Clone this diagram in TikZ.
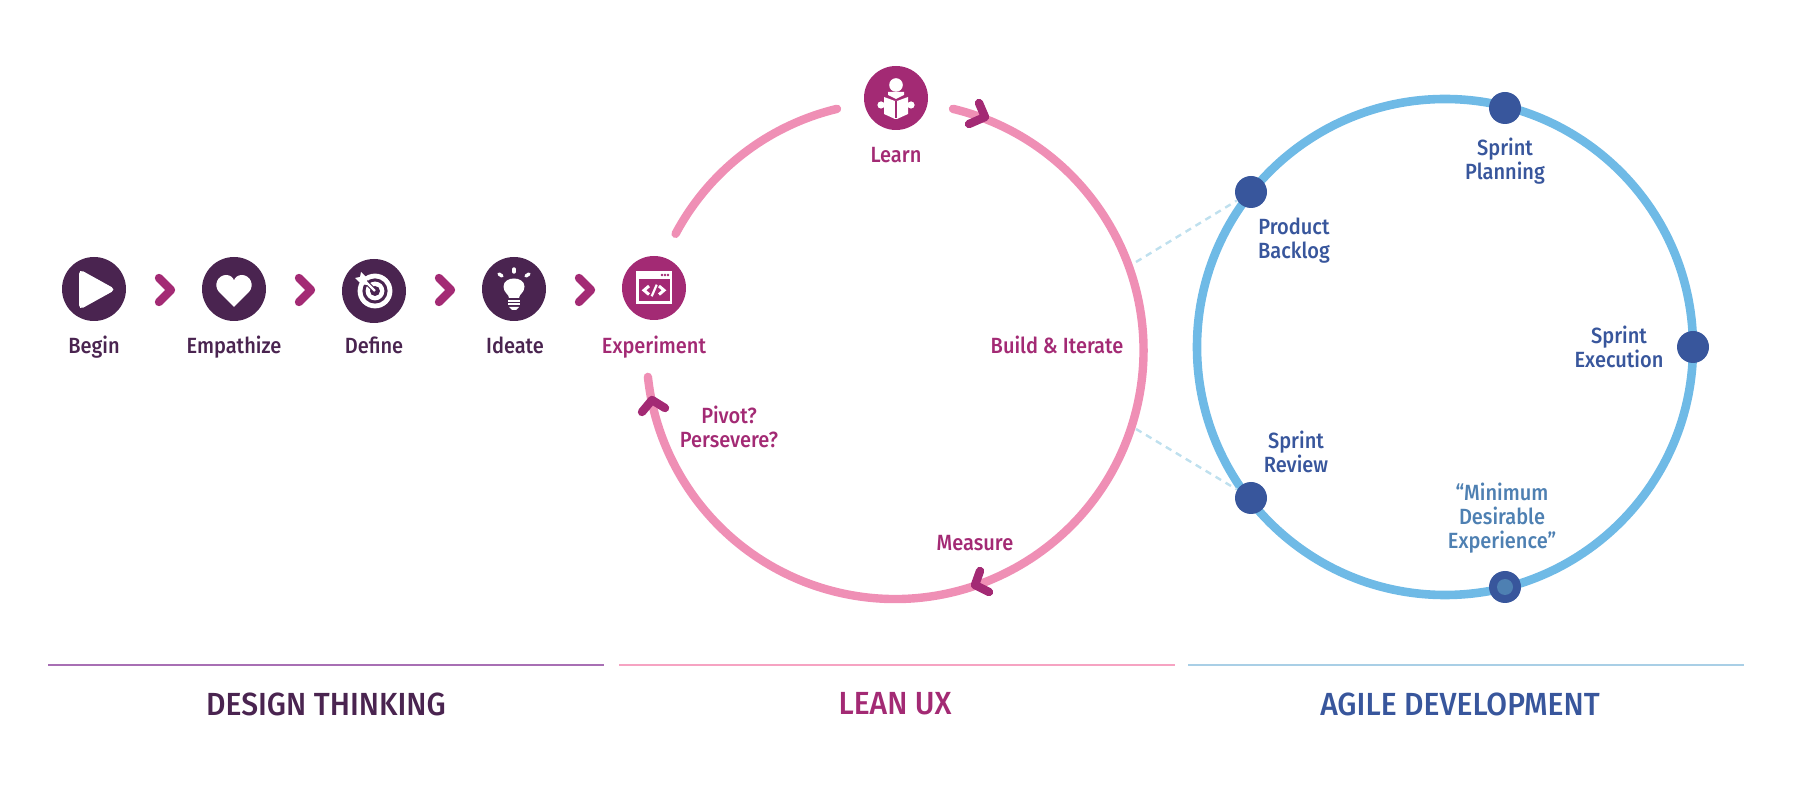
\documentclass[tikz,border=0pt]{standalone}
\usepackage{fontspec}
\setmainfont[FakeStretch=0.91]{Fira Sans Medium}
\newfontface\headfont[FakeStretch=0.94]{Fira Sans Medium}
\usetikzlibrary{positioning}
\definecolor{plumdark}{HTML}{4A2450}
\definecolor{magentadark}{HTML}{A32A74}
\definecolor{pinkring}{HTML}{EF8FB5}
\definecolor{bluering}{HTML}{6FBAE6}
\definecolor{bluedark}{HTML}{38569C}
\definecolor{bluemid}{HTML}{4E80B2}
\definecolor{bluedash}{HTML}{BFE0EE}
\definecolor{plumline}{HTML}{A86FB4}
\definecolor{pinkline}{HTML}{F6A3C2}
\definecolor{blueline}{HTML}{A9CFE6}
\tikzset{
	iconplum/.style={circle, fill=plumdark, minimum size=32pt, inner sep=0pt},
	iconmag/.style={circle, fill=magentadark, minimum size=32pt, inner sep=0pt},
	stepchevron/.style={draw=magentadark, line width=4.2pt, line cap=round, line join=round},
	ringarc/.style={draw=pinkring, line width=4.2pt, line cap=round},
	sprintdot/.style={circle, fill=bluedark, minimum size=16pt, inner sep=0pt},
	linkdash/.style={draw=bluedash, line width=1.2pt, dash pattern=on 3.2pt off 2.6pt},
	stacklabel/.style={font=\fontsize{11pt}{12pt}\selectfont, align=center, inner sep=0pt},
	steplabel/.style={stacklabel, text height=8pt, text depth=2.5pt},
	headline/.style={font=\fontsize{16pt}{18pt}\headfont, inner sep=0pt},
	raystroke/.style={draw=white, line width=1.7pt, line cap=round}
}
\begin{document}
\begin{tikzpicture}[x=0.5pt,y=-0.5pt]
	\useasboundingbox (0,0) rectangle (1800,801);
	% Agile ring
	\coordinate (agilec) at (1445,347);
	\draw[draw=bluering, line width=4.3pt] (agilec) circle (124pt);
	% Lean ring
	\coordinate (leanc) at (895,350.5);
	\draw[ringarc] ([shift={(152:124.25pt)}]leanc) arc[start angle=152, end angle=103.5, radius=124.25pt];
	\draw[ringarc] ([shift={(76.5:124.25pt)}]leanc) arc[start angle=76.5, end angle=-173.9, radius=124.25pt];
	% Design thinking icons
	\node[iconplum] (begin) at (94,289) {};
	\node[iconplum] (empathize) at (234,289) {};
	\node[iconplum] (define) at (374,291) {};
	\node[iconplum] (ideate) at (514,289) {};
	\node[iconmag] (experiment) at (654,288) {};
	\node[iconmag] (learn) at (896,98) {};
	% Play
	\begin{scope}[shift={(begin)}]
		\fill[white, rounded corners=2.5pt] (-15,-20) -- (22,0.5) -- (-15,21) -- cycle;
	\end{scope}
	% Heart
	\begin{scope}[shift={(empathize)}]
		\fill[white] (0,18) -- (-15,3) .. controls (-21,-4) and (-16,-14) .. (-8,-14) .. controls (-4,-14) and (-1,-12) .. (0,-8.5) .. controls (1,-12) and (4,-14) .. (8,-14) .. controls (16,-14) and (21,-4) .. (15,3) -- cycle;
	\end{scope}
	% Target
	\begin{scope}[shift={(define)}]
		\fill[white] (1,0) circle (8.7pt);
		\fill[plumdark] (1,0) circle (6.3pt);
		\fill[white] (1,0) circle (4.7pt);
		\fill[plumdark] (1,0) circle (2.5pt);
		\draw[plumdark, line width=2.2pt] (1,0) -- (-12,-13);
		\draw[white, line width=1.1pt] (1,0) -- (-9,-10);
		\fill[white] (-7,-6) -- (-13,-7) -- (-19,-13) -- (-14,-14) -- (-13,-19) -- (-7,-13) -- cycle;
	\end{scope}
	% Bulb
	\begin{scope}[shift={(ideate)}]
		\fill[white] (-5,9) .. controls (-5,5) and (-10.5,4) .. (-10.5,-2.5) .. controls (-10.5,-8) and (-5,-10.5) .. (0,-10.5) .. controls (5,-10.5) and (10.5,-8) .. (10.5,-2.5) .. controls (10.5,4) and (5,5) .. (5,9) -- cycle;
		\fill[white] (-6,11) rectangle (6,13);
		\fill[white] (-6,14.5) rectangle (6,16.5);
		\fill[white] (-5,18) -- (5,18) -- (2,21) -- (-2,21) -- cycle;
		\draw[raystroke] (0,-20) -- (0,-17);
		\draw[raystroke] (-15,-15) -- (-12,-13);
		\draw[raystroke] (15,-15) -- (12,-13);
	\end{scope}
	% Code window
	\begin{scope}[shift={(experiment)}]
		\fill[white] (-18,-17) rectangle (18,16);
		\fill[magentadark] (-15.5,-9) rectangle (15.5,13.5);
		\foreach \xdot in {8,11,14} {
			\fill[magentadark] (\xdot,-13) circle (0.7pt);
		}
		\draw[white, line width=1.5pt] (-5,-2) -- (-10,2.3) -- (-5,6.5);
		\draw[white, line width=1.5pt] (5,-2) -- (10,2.3) -- (5,6.5);
		\draw[white, line width=1.1pt] (2.7,-3.3) -- (-2.3,8.3);
	\end{scope}
	% Reader
	\begin{scope}[shift={(learn)}]
		\fill[white] (0,-13) circle (3.4pt);
		\fill[white] (-12,-1) -- (-1,3) -- (1,3) -- (12,-1) -- (12,16) -- (1,21) -- (-1,21) -- (-12,16) -- cycle;
		\fill[white] (-8,-6) -- (8,-6) -- (8,-3) -- (0,1) -- (-8,-3) -- cycle;
		\draw[magentadark, line width=0.7pt] (0,3) -- (0,20);
		\fill[white] (-15,7) circle (1.8pt);
		\fill[white] (15,7) circle (1.8pt);
	\end{scope}
	% Chevrons between steps
	\foreach \xtip in {173,313,453,593} {
		\draw[stepchevron] (\xtip-14,278) -- (\xtip-2,290) -- (\xtip-14,302);
	}
	% Cycle arrowheads
	\draw[stepchevron] (979,103) -- (985,117) -- (969,124);
	\draw[stepchevron] (642,412) -- (652,400) -- (665,408);
	\draw[stepchevron] (980,571) -- (975,585) -- (989,592);
	% Step labels
	\node[steplabel, text=plumdark] (beginlab) at (94,348.5) {Begin};
	\node[steplabel, text=plumdark] (empathizelab) at (234,348.5) {Empathize};
	\node[steplabel, text=plumdark] (definelab) at (374,348.5) {Define};
	\node[steplabel, text=plumdark] (ideatelab) at (515,348.5) {Ideate};
	\node[steplabel, text=magentadark] (experimentlab) at (654,348.5) {Experiment};
	\node[steplabel, text=magentadark] (learnlab) at (896,157.5) {Learn};
	\node[steplabel, text=magentadark] (buildlab) at (1057,348.5) {Build \& Iterate};
	\node[stacklabel, text=magentadark] (pivotlab) at (729,427) {Pivot?\\Persevere?};
	\node[steplabel, text=magentadark] (measurelab) at (975,545.5) {Measure};
	% Sprint dots
	\node[sprintdot] (backlog) at (1251,192) {};
	\node[sprintdot] (planning) at (1505,108) {};
	\node[sprintdot] (execution) at (1693,347) {};
	\node[sprintdot] (minimum) at (1505,587) {};
	\node[sprintdot] (review) at (1251,498) {};
	\fill[bluemid] (minimum) circle (4pt);
	\node[stacklabel, text=bluedark] (backloglab) at (1294,241) {Product\\Backlog};
	\node[stacklabel, text=bluedark] (planninglab) at (1505,161) {Sprint\\Planning};
	\node[stacklabel, text=bluedark] (executionlab) at (1619,347) {Sprint\\Execution};
	\node[stacklabel, text=bluemid] (minimumlab) at (1502,518) {“Minimum\\Desirable\\Experience”};
	\node[stacklabel, text=bluedark] (reviewlab) at (1296,452) {Sprint\\Review};
	% Links between the rings
	\coordinate (linkup) at (1136,262);
	\coordinate (linkdown) at (1136,429);
	\draw[linkdash] (linkup) -- (backlog);
	\draw[linkdash] (linkdown) -- (review);
	% Section rules
	\coordinate (designa) at (48,665);
	\coordinate (designb) at (604,665);
	\coordinate (leana) at (619,665);
	\coordinate (leanb) at (1175,665);
	\coordinate (agilea) at (1188,665);
	\coordinate (agileb) at (1744,665);
	\draw[plumline, line width=1.3pt] (designa) -- (designb);
	\draw[pinkline, line width=1.3pt] (leana) -- (leanb);
	\draw[blueline, line width=1.3pt] (agilea) -- (agileb);
	\node[headline, text=plumdark] (designtitle) at (326,704) {DESIGN THINKING};
	\node[headline, text=magentadark] (leantitle) at (895,704) {LEAN UX};
	\node[headline, text=bluedark] (agiletitle) at (1460,704) {AGILE DEVELOPMENT};
\end{tikzpicture}
\end{document}
